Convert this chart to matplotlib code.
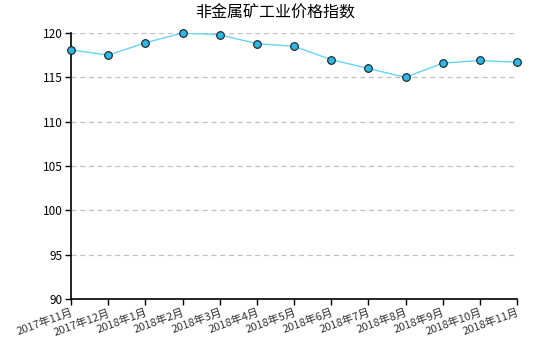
import matplotlib
matplotlib.use('Agg')
import matplotlib.pyplot as plt
import numpy as np

plt.rcParams['font.family'] = ['Noto Sans CJK SC', 'DejaVu Sans']

# data
months = ['2017年11月', '2017年12月', '2018年1月', '2018年2月', '2018年3月', '2018年4月',
          '2018年5月', '2018年6月', '2018年7月', '2018年8月', '2018年9月', '2018年10月',
          '2018年11月']
index_values = [118.1, 117.5, 118.9, 120.0, 119.8, 118.8, 118.5, 117.0, 116.0, 115.0,
                116.6, 116.9, 116.7]
y_ticks = [90, 95, 100, 105, 110, 115, 120]

fig = plt.figure(figsize=(5.5, 3.5), dpi=100)
ax = fig.add_axes([71 / 550, 1 - 299 / 350, (517 - 71) / 550, (299 - 33) / 350])

x = np.arange(len(months))
ax.plot(x, index_values, color='#66d4f4', linewidth=1.0, zorder=3)
ax.plot(x, index_values, linestyle='none', marker='o', markersize=5.5,
        markerfacecolor='#2bb8e8', markeredgecolor='#1a1a1a', markeredgewidth=0.8,
        zorder=4, clip_on=False)

ax.set_xlim(0, len(months) - 1)
ax.set_ylim(90, 120)
ax.set_yticks(y_ticks)
ax.set_yticklabels([str(t) for t in y_ticks], fontsize=8.5)
ax.set_xticks(x)
ax.set_xticklabels(months, fontsize=8, rotation=20, ha='right', va='top',
                   rotation_mode='anchor', color='#333333')

for t in y_ticks[1:]:
    ax.axhline(t, color='#c0c0c0', linestyle=(0, (4, 3)), linewidth=0.9, zorder=1)

for side in ['top', 'right']:
    ax.spines[side].set_visible(False)
ax.spines['left'].set_linewidth(1.2)
ax.spines['bottom'].set_linewidth(1.2)
ax.tick_params(axis='both', direction='out', length=4, width=1.0, pad=2)

fig.text(0.5, 1 - 13 / 350, '非金属矿工业价格指数', ha='center', va='center', fontsize=11.5)

fig.savefig('out.png', dpi=100)
